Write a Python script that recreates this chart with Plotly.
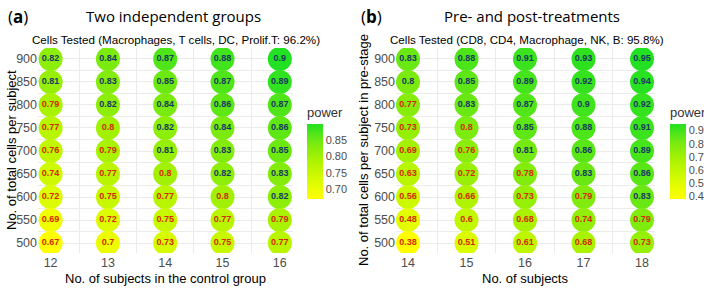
import plotly.graph_objects as go

# ---------------- data ----------------
cells = [900, 850, 800, 750, 700, 650, 600, 550, 500]

left_subjects = [12, 13, 14, 15, 16]
left_power = [
    [0.82, 0.84, 0.87, 0.88, 0.90],
    [0.81, 0.83, 0.85, 0.87, 0.89],
    [0.79, 0.82, 0.84, 0.86, 0.87],
    [0.77, 0.798, 0.82, 0.84, 0.86],
    [0.76, 0.79, 0.81, 0.83, 0.85],
    [0.74, 0.77, 0.798, 0.82, 0.83],
    [0.72, 0.75, 0.77, 0.798, 0.82],
    [0.69, 0.72, 0.75, 0.77, 0.79],
    [0.67, 0.70, 0.73, 0.75, 0.77],
]

right_subjects = [14, 15, 16, 17, 18]
right_power = [
    [0.83, 0.88, 0.91, 0.93, 0.95],
    [0.802, 0.85, 0.89, 0.92, 0.94],
    [0.77, 0.83, 0.87, 0.90, 0.92],
    [0.73, 0.798, 0.85, 0.88, 0.91],
    [0.69, 0.76, 0.81, 0.86, 0.89],
    [0.63, 0.72, 0.78, 0.83, 0.86],
    [0.56, 0.66, 0.73, 0.79, 0.83],
    [0.48, 0.60, 0.68, 0.74, 0.79],
    [0.38, 0.51, 0.61, 0.68, 0.73],
]

left_cb_ticks = [0.70, 0.75, 0.80, 0.85]
right_cb_ticks = [0.4, 0.5, 0.6, 0.7, 0.8, 0.9]

# ---------------- styling ----------------
W, H = 704, 288
COLORSCALE = [[0.0, "#FFFF00"], [0.25, "#D8FB00"], [0.5, "#AEF300"],
              [0.75, "#78EA10"], [1.0, "#22E022"]]
RED = "#D42A00"
DARK = "#173A5E"
GRID = "#EBEBEB"
TICKC = "#4D4D4D"
FONT = "Liberation Sans, Arial, sans-serif"


def px_x(p):
    return p / W


def px_y(p):
    return 1 - p / H


def fmt(v):
    s = f"{v:.2f}".rstrip("0").rstrip(".")
    return s


def flatten(subjects, power):
    xs, ys, vs, txt, tcol = [], [], [], [], []
    for r, c in enumerate(cells):
        for j, s in enumerate(subjects):
            v = power[r][j]
            xs.append(s)
            ys.append(c)
            vs.append(v)
            txt.append(fmt(v))
            tcol.append(DARK if v > 0.8 else RED)
    return xs, ys, vs, txt, tcol


fig = go.Figure()

for idx, (subj, pw, cax, xa, ya) in enumerate([
    (left_subjects, left_power, "coloraxis", "x", "y"),
    (right_subjects, right_power, "coloraxis2", "x2", "y2"),
]):
    xs, ys, vs, txt, tcol = flatten(subj, pw)
    fig.add_trace(go.Scatter(
        x=xs, y=ys, mode="markers+text", text=txt,
        textposition="middle center",
        textfont=dict(family=FONT, size=9, color=tcol, weight="bold"),
        marker=dict(size=24, color=vs, coloraxis=cax, line=dict(width=0)),
        xaxis=xa, yaxis=ya, showlegend=False, hoverinfo="skip",
    ))

# axis geometry (pixel based)
ydom = [px_y(253), px_y(48)]
yrange = [478.5, 923.7]

axis_common = dict(
    showline=False, zeroline=False, ticks="", showgrid=True,
    gridcolor=GRID, gridwidth=1, automargin=False,
    tickfont=dict(family=FONT, size=12.5, color=TICKC),
)

fig.update_layout(
    width=W, height=H, autosize=False,
    margin=dict(l=0, r=0, t=0, b=0, autoexpand=False),
    paper_bgcolor="white", plot_bgcolor="white",
    xaxis=dict(domain=[px_x(38), px_x(293)], range=[11.78, 16.23],
               tickvals=left_subjects, anchor="y",
               minor=dict(tick0=11.5, dtick=1, showgrid=True, gridcolor=GRID),
               **axis_common),
    yaxis=dict(domain=ydom, range=yrange, tickvals=cells, anchor="x",
               minor=dict(tick0=475, dtick=50, showgrid=True, gridcolor=GRID),
               **axis_common),
    xaxis2=dict(domain=[px_x(396), px_x(655)], range=[13.795, 18.222],
                tickvals=right_subjects, anchor="y2",
                minor=dict(tick0=13.5, dtick=1, showgrid=True, gridcolor=GRID),
                **axis_common),
    yaxis2=dict(domain=ydom, range=yrange, tickvals=cells, anchor="x2",
                minor=dict(tick0=475, dtick=50, showgrid=True, gridcolor=GRID),
                **axis_common),
    coloraxis=dict(
        colorscale=COLORSCALE,
        cmin=min(min(r) for r in left_power), cmax=max(max(r) for r in left_power),
        colorbar=dict(
            x=px_x(307), xanchor="left", y=px_y(104), yanchor="top",
            lenmode="pixels", len=95, thickness=16, outlinewidth=0,
            xpad=0, ypad=0,
            tickvals=left_cb_ticks, ticktext=[f"{t:.2f}" for t in left_cb_ticks],
            ticks="", tickfont=dict(family=FONT, size=11, color=TICKC),
            title=dict(text="power", side="top",
                       font=dict(family=FONT, size=13, color="#333333")),
        ),
    ),
    coloraxis2=dict(
        colorscale=COLORSCALE,
        cmin=min(min(r) for r in right_power), cmax=max(max(r) for r in right_power),
        colorbar=dict(
            x=px_x(670), xanchor="left", y=px_y(104), yanchor="top",
            lenmode="pixels", len=95, thickness=16, outlinewidth=0,
            xpad=0, ypad=0,
            tickvals=right_cb_ticks, ticktext=[f"{t:.1f}" for t in right_cb_ticks],
            ticks="", tickfont=dict(family=FONT, size=11, color=TICKC),
            title=dict(text="power", side="top",
                       font=dict(family=FONT, size=13, color="#333333")),
        ),
    ),
)

ann = []
TITLEF = "Open Sans, Noto Sans, sans-serif"
ann.append(dict(x=px_x(6), y=px_y(16), text="(<b>a</b>)", showarrow=False,
                xanchor="left", yanchor="middle", xref="paper", yref="paper",
                font=dict(family=TITLEF, size=17, color="black")))
ann.append(dict(x=px_x(173), y=px_y(16), text="Two independent groups", showarrow=False,
                xanchor="center", yanchor="middle", xref="paper", yref="paper",
                font=dict(family=TITLEF, size=15, color="black")))
ann.append(dict(x=px_x(359), y=px_y(16), text="(<b>b</b>)", showarrow=False,
                xanchor="left", yanchor="middle", xref="paper", yref="paper",
                font=dict(family=TITLEF, size=17, color="black")))
ann.append(dict(x=px_x(532), y=px_y(16), text="Pre- and post-treatments", showarrow=False,
                xanchor="center", yanchor="middle", xref="paper", yref="paper",
                font=dict(family=TITLEF, size=15, color="black")))
ann.append(dict(x=px_x(176), y=px_y(40), text="Cells Tested (Macrophages, T cells, DC, Prolif.T: 96.2%)",
                showarrow=False, xanchor="center", yanchor="middle", xref="paper", yref="paper",
                font=dict(family=FONT, size=11.6, color="black")))
ann.append(dict(x=px_x(527), y=px_y(40), text="Cells Tested (CD8, CD4, Macrophage, NK, B: 95.8%)",
                showarrow=False, xanchor="center", yanchor="middle", xref="paper", yref="paper",
                font=dict(family=FONT, size=11.6, color="black")))
ann.append(dict(x=px_x(165), y=px_y(278), text="No. of subjects in the control group",
                showarrow=False, xanchor="center", yanchor="middle", xref="paper", yref="paper",
                font=dict(family=FONT, size=13, color="black")))
ann.append(dict(x=px_x(525), y=px_y(278), text="No. of subjects",
                showarrow=False, xanchor="center", yanchor="middle", xref="paper", yref="paper",
                font=dict(family=FONT, size=13, color="black")))
ann.append(dict(x=px_x(11), y=px_y(150), text="No. of total cells per subject",
                showarrow=False, xanchor="center", yanchor="middle", xref="paper", yref="paper",
                textangle=-90, font=dict(family=FONT, size=13, color="black")))
ann.append(dict(x=px_x(363), y=px_y(150), text="No. of total cells per subject in pre-stage",
                showarrow=False, xanchor="center", yanchor="middle", xref="paper", yref="paper",
                textangle=-90, font=dict(family=FONT, size=13, color="black")))
fig.update_layout(annotations=ann)

post = (
    "document.body.style.margin='0';"
    "document.body.style.padding='0';"
    "document.body.style.overflow='hidden';"
    "document.documentElement.style.overflow='hidden';"
    "var gd=document.getElementById('{plot_id}');"
    "Plotly.relayout(gd,{width:704,height:288});"
)

fig.write_html("out.html", config={"responsive": False, "displayModeBar": False},
               post_script=post)
